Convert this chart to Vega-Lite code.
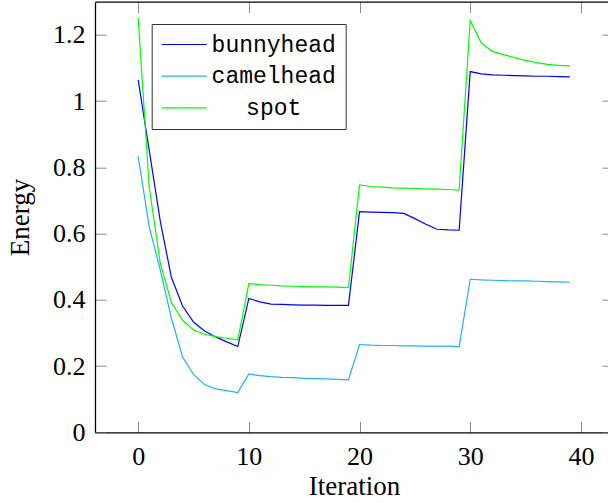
{
  "$schema": "https://vega.github.io/schema/vega-lite/v6.json",
  "width": 518,
  "height": 430.6,
  "autosize": {"type": "none"},
  "padding": {"left": 95, "top": 1.7, "right": 0, "bottom": 70.7},
  "config": {
    "view": {"stroke": null},
    "font": "Liberation Serif",
    "axis": {
      "grid": false,
      "domainColor": "#000000",
      "domainWidth": 1.3,
      "tickColor": "#8a8a8a",
      "tickWidth": 1,
      "tickSize": -11,
      "labelFont": "Liberation Serif",
      "labelFontSize": 26,
      "labelColor": "#000000",
      "titleFont": "Liberation Serif",
      "titleFontSize": 27,
      "titleFontWeight": "normal",
      "titleColor": "#000000"
    }
  },
  "data": {
    "values": [
      {"i": 0, "s": "bunnyhead", "v": 1.064}, {"i": 1, "s": "bunnyhead", "v": 0.851}, {"i": 2, "s": "bunnyhead", "v": 0.637}, {"i": 3, "s": "bunnyhead", "v": 0.468}, {"i": 4, "s": "bunnyhead", "v": 0.382},
      {"i": 5, "s": "bunnyhead", "v": 0.333}, {"i": 6, "s": "bunnyhead", "v": 0.306}, {"i": 7, "s": "bunnyhead", "v": 0.288}, {"i": 8, "s": "bunnyhead", "v": 0.273}, {"i": 9, "s": "bunnyhead", "v": 0.259},
      {"i": 10, "s": "bunnyhead", "v": 0.404}, {"i": 11, "s": "bunnyhead", "v": 0.394}, {"i": 12, "s": "bunnyhead", "v": 0.387}, {"i": 13, "s": "bunnyhead", "v": 0.386}, {"i": 14, "s": "bunnyhead", "v": 0.385},
      {"i": 15, "s": "bunnyhead", "v": 0.384}, {"i": 16, "s": "bunnyhead", "v": 0.384}, {"i": 17, "s": "bunnyhead", "v": 0.383}, {"i": 18, "s": "bunnyhead", "v": 0.383}, {"i": 19, "s": "bunnyhead", "v": 0.383},
      {"i": 20, "s": "bunnyhead", "v": 0.666}, {"i": 21, "s": "bunnyhead", "v": 0.665}, {"i": 22, "s": "bunnyhead", "v": 0.664}, {"i": 23, "s": "bunnyhead", "v": 0.663}, {"i": 24, "s": "bunnyhead", "v": 0.661},
      {"i": 25, "s": "bunnyhead", "v": 0.645}, {"i": 26, "s": "bunnyhead", "v": 0.628}, {"i": 27, "s": "bunnyhead", "v": 0.613}, {"i": 28, "s": "bunnyhead", "v": 0.611}, {"i": 29, "s": "bunnyhead", "v": 0.61},
      {"i": 30, "s": "bunnyhead", "v": 1.089}, {"i": 31, "s": "bunnyhead", "v": 1.082}, {"i": 32, "s": "bunnyhead", "v": 1.079}, {"i": 33, "s": "bunnyhead", "v": 1.078}, {"i": 34, "s": "bunnyhead", "v": 1.077},
      {"i": 35, "s": "bunnyhead", "v": 1.076}, {"i": 36, "s": "bunnyhead", "v": 1.075}, {"i": 37, "s": "bunnyhead", "v": 1.075}, {"i": 38, "s": "bunnyhead", "v": 1.074}, {"i": 39, "s": "bunnyhead", "v": 1.073},
      {"i": 0, "s": "camelhead", "v": 0.833}, {"i": 1, "s": "camelhead", "v": 0.62}, {"i": 2, "s": "camelhead", "v": 0.49}, {"i": 3, "s": "camelhead", "v": 0.345}, {"i": 4, "s": "camelhead", "v": 0.228},
      {"i": 5, "s": "camelhead", "v": 0.175}, {"i": 6, "s": "camelhead", "v": 0.144}, {"i": 7, "s": "camelhead", "v": 0.131}, {"i": 8, "s": "camelhead", "v": 0.126}, {"i": 9, "s": "camelhead", "v": 0.12},
      {"i": 10, "s": "camelhead", "v": 0.176}, {"i": 11, "s": "camelhead", "v": 0.171}, {"i": 12, "s": "camelhead", "v": 0.168}, {"i": 13, "s": "camelhead", "v": 0.166}, {"i": 14, "s": "camelhead", "v": 0.165},
      {"i": 15, "s": "camelhead", "v": 0.163}, {"i": 16, "s": "camelhead", "v": 0.162}, {"i": 17, "s": "camelhead", "v": 0.161}, {"i": 18, "s": "camelhead", "v": 0.16}, {"i": 19, "s": "camelhead", "v": 0.158},
      {"i": 20, "s": "camelhead", "v": 0.265}, {"i": 21, "s": "camelhead", "v": 0.263}, {"i": 22, "s": "camelhead", "v": 0.262}, {"i": 23, "s": "camelhead", "v": 0.262}, {"i": 24, "s": "camelhead", "v": 0.261},
      {"i": 25, "s": "camelhead", "v": 0.261}, {"i": 26, "s": "camelhead", "v": 0.26}, {"i": 27, "s": "camelhead", "v": 0.26}, {"i": 28, "s": "camelhead", "v": 0.26}, {"i": 29, "s": "camelhead", "v": 0.259},
      {"i": 30, "s": "camelhead", "v": 0.462}, {"i": 31, "s": "camelhead", "v": 0.46}, {"i": 32, "s": "camelhead", "v": 0.459}, {"i": 33, "s": "camelhead", "v": 0.458}, {"i": 34, "s": "camelhead", "v": 0.457},
      {"i": 35, "s": "camelhead", "v": 0.457}, {"i": 36, "s": "camelhead", "v": 0.456}, {"i": 37, "s": "camelhead", "v": 0.455}, {"i": 38, "s": "camelhead", "v": 0.454}, {"i": 39, "s": "camelhead", "v": 0.453},
      {"i": 0, "s": "spot", "v": 1.251}, {"i": 1, "s": "spot", "v": 0.74}, {"i": 2, "s": "spot", "v": 0.51}, {"i": 3, "s": "spot", "v": 0.392}, {"i": 4, "s": "spot", "v": 0.339},
      {"i": 5, "s": "spot", "v": 0.309}, {"i": 6, "s": "spot", "v": 0.296}, {"i": 7, "s": "spot", "v": 0.289}, {"i": 8, "s": "spot", "v": 0.284}, {"i": 9, "s": "spot", "v": 0.279},
      {"i": 10, "s": "spot", "v": 0.449}, {"i": 11, "s": "spot", "v": 0.446}, {"i": 12, "s": "spot", "v": 0.444}, {"i": 13, "s": "spot", "v": 0.442}, {"i": 14, "s": "spot", "v": 0.441},
      {"i": 15, "s": "spot", "v": 0.44}, {"i": 16, "s": "spot", "v": 0.439}, {"i": 17, "s": "spot", "v": 0.439}, {"i": 18, "s": "spot", "v": 0.438}, {"i": 19, "s": "spot", "v": 0.437},
      {"i": 20, "s": "spot", "v": 0.747}, {"i": 21, "s": "spot", "v": 0.742}, {"i": 22, "s": "spot", "v": 0.74}, {"i": 23, "s": "spot", "v": 0.738}, {"i": 24, "s": "spot", "v": 0.737},
      {"i": 25, "s": "spot", "v": 0.736}, {"i": 26, "s": "spot", "v": 0.735}, {"i": 27, "s": "spot", "v": 0.734}, {"i": 28, "s": "spot", "v": 0.733}, {"i": 29, "s": "spot", "v": 0.731},
      {"i": 30, "s": "spot", "v": 1.243}, {"i": 31, "s": "spot", "v": 1.175}, {"i": 32, "s": "spot", "v": 1.15}, {"i": 33, "s": "spot", "v": 1.14}, {"i": 34, "s": "spot", "v": 1.131},
      {"i": 35, "s": "spot", "v": 1.123}, {"i": 36, "s": "spot", "v": 1.116}, {"i": 37, "s": "spot", "v": 1.111}, {"i": 38, "s": "spot", "v": 1.108}, {"i": 39, "s": "spot", "v": 1.106}
    ]
  },
  "layer": [
    {
      "mark": {"type": "line", "strokeWidth": 1.2, "opacity": 0},
      "encoding": {
        "x": {"field": "i", "type": "quantitative", "scale": {"domain": [-3.9, 42.9], "nice": false, "zero": false},
              "axis": {"orient": "top", "labels": false, "title": null, "values": [0, 10, 20, 30, 40]}},
        "y": {"field": "v", "type": "quantitative", "scale": {"domain": [0, 1.3], "nice": false},
              "axis": {"orient": "right", "labels": false, "title": null, "values": [0, 0.2, 0.4, 0.6, 0.8, 1, 1.2]}},
        "detail": {"field": "s"}
      }
    },
    {
      "mark": {"type": "line", "strokeWidth": 1.2},
      "encoding": {
        "x": {"field": "i", "type": "quantitative", "scale": {"domain": [-3.9, 42.9], "nice": false, "zero": false},
              "axis": {"orient": "bottom", "title": "Iteration", "values": [0, 10, 20, 30, 40], "labelFont": "Liberation Serif", "labelFontSize": 26, "labelPadding": 22, "titlePadding": 4}},
        "y": {"field": "v", "type": "quantitative", "scale": {"domain": [0, 1.3], "nice": false},
              "axis": {"orient": "left", "title": "Energy", "values": [0, 0.2, 0.4, 0.6, 0.8, 1, 1.2], "format": "~g", "labelFont": "Liberation Serif", "labelFontSize": 26, "labelPadding": 21, "titlePadding": 18}},
        "color": {
          "field": "s", "type": "nominal",
          "scale": {"domain": ["bunnyhead", "camelhead", "spot"], "range": ["#0000ff", "#1fb2f0", "#00ff00"]},
          "legend": {
            "orient": "none", "legendX": 56.7, "legendY": 22.3, "title": null,
            "symbolType": "M-5,0H5", "symbolSize": 81, "symbolStrokeWidth": 1.2, "symbolOffset": 12,
            "labelFont": "Liberation Mono", "labelFontSize": 23, "labelColor": "#000000",
            "labelAlign": "center", "labelOffset": 78,
            "padding": 9, "rowPadding": 7.7, "strokeColor": "#333333", "fillColor": "#ffffff", "cornerRadius": 0
          }
        }
      }
    }
  ],
  "resolve": {"axis": {"x": "independent", "y": "independent"}}
}
